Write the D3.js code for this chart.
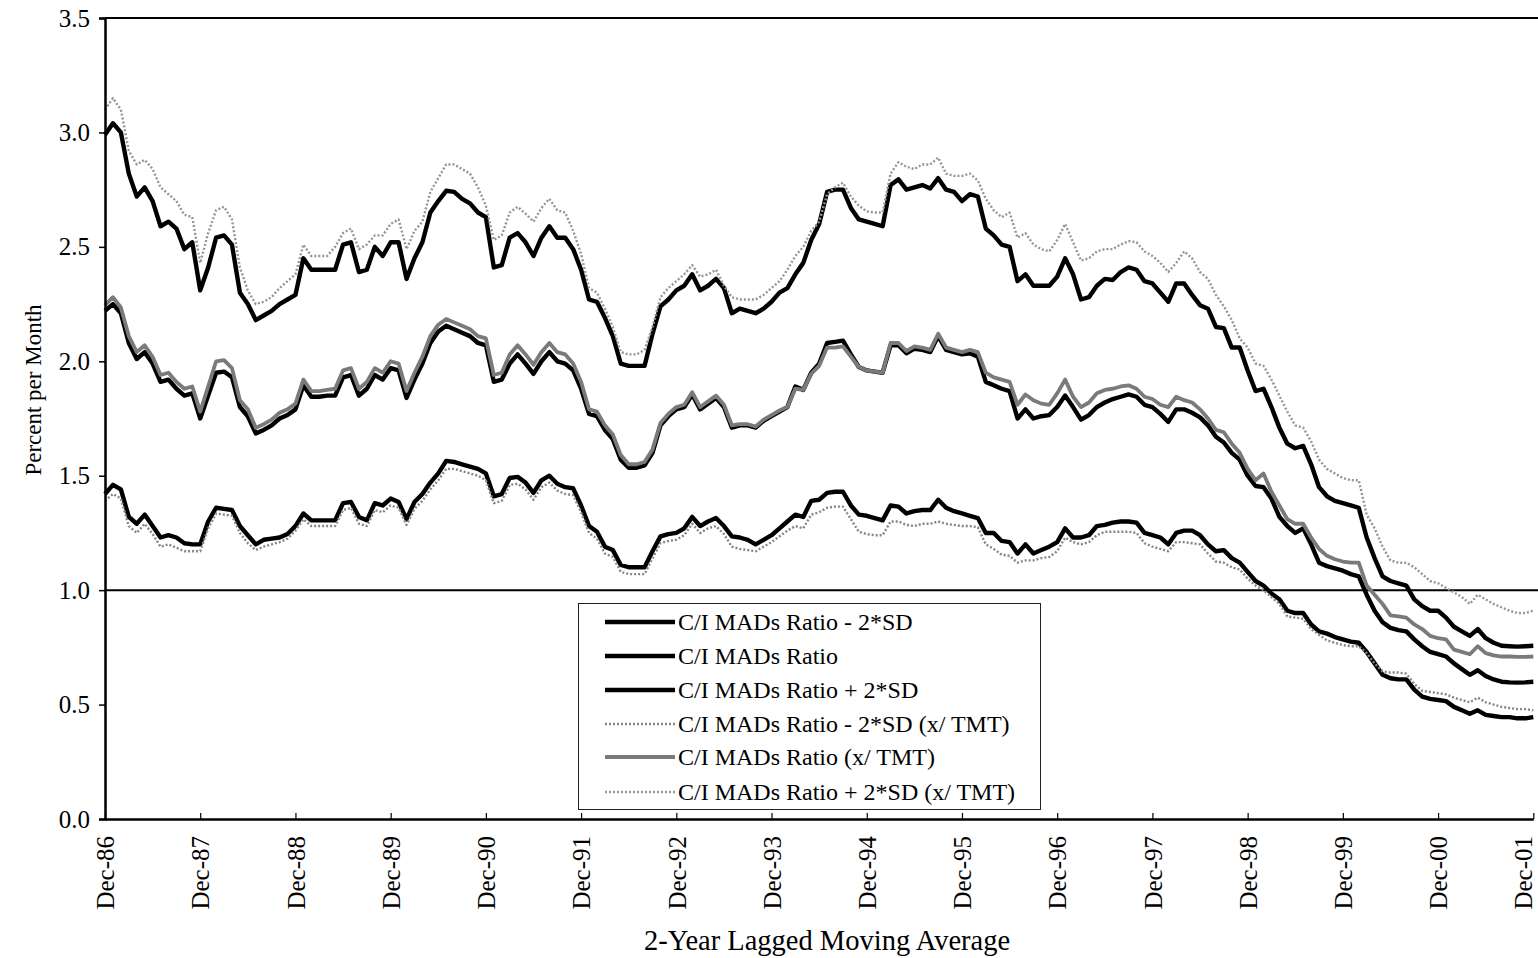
<!DOCTYPE html>
<html>
<head>
<meta charset="utf-8">
<script src="https://cdn.jsdelivr.net/npm/d3@7"></script>
<style>
  body { margin: 0; background: #fff; }
  svg { display: block; }
  text { font-family: "Liberation Serif", "Times New Roman", serif; fill: #000; }
</style>
</head>
<body>
<svg id="chart" width="1538" height="958"></svg>
<script>
// Monthly values, Dec-86 .. Dec-01 (one row per year, 181 points)
const ratioMinus2SD = [
  1.42,1.46,1.44,1.32,1.29,1.33,1.28,1.23,1.24,1.23,1.205,1.20,
  1.20,1.30,1.36,1.355,1.35,1.28,1.24,1.20,1.22,1.225,1.23,1.245,
  1.28,1.335,1.305,1.305,1.305,1.305,1.38,1.385,1.32,1.305,1.38,1.37,
  1.40,1.385,1.31,1.385,1.42,1.47,1.51,1.565,1.56,1.55,1.54,1.53,
  1.51,1.41,1.42,1.49,1.495,1.47,1.425,1.48,1.50,1.465,1.45,1.445,
  1.37,1.28,1.255,1.19,1.175,1.11,1.10,1.10,1.10,1.17,1.235,1.245,
  1.25,1.27,1.32,1.28,1.30,1.315,1.28,1.235,1.23,1.22,1.20,1.22,
  1.24,1.27,1.30,1.33,1.32,1.39,1.395,1.425,1.43,1.43,1.37,1.33,
  1.325,1.315,1.305,1.37,1.365,1.335,1.345,1.35,1.35,1.395,1.36,1.345,
  1.335,1.325,1.315,1.25,1.25,1.215,1.21,1.16,1.20,1.16,1.175,1.19,
  1.21,1.27,1.23,1.23,1.24,1.28,1.285,1.295,1.30,1.30,1.295,1.25,
  1.24,1.23,1.20,1.25,1.26,1.26,1.24,1.20,1.17,1.175,1.14,1.12,
  1.08,1.04,1.02,0.985,0.96,0.91,0.90,0.90,0.85,0.82,0.81,0.795,
  0.785,0.775,0.77,0.73,0.68,0.63,0.615,0.61,0.61,0.565,0.535,0.525,
  0.52,0.515,0.49,0.475,0.46,0.475,0.455,0.45,0.445,0.445,0.44,0.44,
  0.445
];
const ratio = [
  2.22,2.25,2.21,2.08,2.01,2.04,1.99,1.91,1.92,1.88,1.85,1.86,
  1.75,1.85,1.95,1.955,1.93,1.80,1.76,1.685,1.70,1.72,1.75,1.765,
  1.79,1.895,1.845,1.845,1.85,1.85,1.93,1.94,1.85,1.88,1.94,1.92,
  1.97,1.96,1.84,1.92,1.99,2.08,2.13,2.155,2.14,2.125,2.11,2.08,
  2.07,1.91,1.92,1.99,2.03,1.99,1.945,2.00,2.04,2.00,1.99,1.96,
  1.88,1.77,1.76,1.70,1.66,1.57,1.535,1.535,1.545,1.60,1.72,1.76,
  1.79,1.80,1.855,1.79,1.815,1.84,1.80,1.71,1.72,1.72,1.71,1.74,
  1.76,1.78,1.80,1.89,1.875,1.95,1.99,2.08,2.085,2.09,2.03,1.975,
  1.96,1.955,1.95,2.07,2.07,2.035,2.055,2.05,2.04,2.11,2.05,2.04,
  2.03,2.035,2.02,1.91,1.895,1.88,1.87,1.75,1.79,1.75,1.76,1.765,
  1.80,1.85,1.80,1.745,1.765,1.80,1.82,1.835,1.845,1.855,1.845,1.81,
  1.80,1.77,1.735,1.79,1.79,1.775,1.755,1.72,1.67,1.645,1.60,1.57,
  1.50,1.455,1.45,1.40,1.32,1.28,1.25,1.27,1.20,1.12,1.105,1.095,
  1.085,1.07,1.06,0.98,0.91,0.86,0.835,0.825,0.82,0.785,0.755,0.73,
  0.72,0.71,0.68,0.655,0.63,0.65,0.625,0.61,0.60,0.597,0.596,0.597,
  0.60
];
const ratioPlus2SD = [
  2.99,3.04,3.00,2.82,2.72,2.76,2.70,2.59,2.61,2.58,2.49,2.52,
  2.31,2.41,2.54,2.55,2.51,2.30,2.25,2.18,2.20,2.22,2.25,2.27,
  2.29,2.45,2.40,2.40,2.40,2.40,2.51,2.52,2.39,2.40,2.50,2.46,
  2.52,2.52,2.36,2.45,2.52,2.65,2.70,2.745,2.74,2.71,2.69,2.65,
  2.63,2.41,2.42,2.54,2.56,2.52,2.46,2.54,2.59,2.54,2.54,2.49,
  2.40,2.27,2.26,2.19,2.11,1.99,1.98,1.98,1.98,2.12,2.24,2.27,
  2.31,2.33,2.38,2.31,2.33,2.36,2.32,2.21,2.23,2.22,2.21,2.23,
  2.26,2.30,2.32,2.38,2.43,2.53,2.60,2.74,2.75,2.75,2.67,2.62,
  2.61,2.60,2.59,2.77,2.795,2.75,2.76,2.77,2.755,2.80,2.75,2.74,
  2.70,2.73,2.72,2.58,2.55,2.51,2.50,2.35,2.38,2.33,2.33,2.33,
  2.37,2.45,2.38,2.27,2.28,2.33,2.36,2.355,2.39,2.41,2.40,2.35,
  2.34,2.30,2.26,2.34,2.34,2.29,2.245,2.23,2.15,2.145,2.06,2.06,
  1.96,1.87,1.88,1.80,1.71,1.64,1.62,1.63,1.55,1.45,1.41,1.39,
  1.38,1.37,1.36,1.23,1.14,1.06,1.04,1.03,1.02,0.96,0.93,0.91,
  0.91,0.88,0.84,0.82,0.80,0.83,0.79,0.77,0.757,0.755,0.753,0.755,
  0.757
];
const tmtMinus2SD = [
  1.39,1.42,1.40,1.28,1.25,1.29,1.245,1.19,1.20,1.185,1.17,1.17,
  1.17,1.27,1.335,1.33,1.325,1.25,1.205,1.175,1.19,1.20,1.21,1.225,
  1.26,1.31,1.28,1.28,1.28,1.28,1.35,1.36,1.29,1.28,1.35,1.34,
  1.37,1.36,1.285,1.355,1.39,1.44,1.48,1.53,1.53,1.52,1.51,1.50,
  1.48,1.38,1.39,1.46,1.465,1.44,1.395,1.45,1.47,1.435,1.42,1.415,
  1.34,1.25,1.225,1.16,1.145,1.08,1.07,1.07,1.07,1.14,1.205,1.215,
  1.22,1.24,1.29,1.25,1.27,1.28,1.245,1.19,1.18,1.175,1.17,1.19,
  1.21,1.235,1.26,1.28,1.27,1.33,1.34,1.36,1.365,1.365,1.31,1.255,
  1.245,1.24,1.24,1.30,1.30,1.285,1.28,1.29,1.29,1.30,1.29,1.285,
  1.28,1.28,1.275,1.20,1.18,1.155,1.15,1.12,1.13,1.13,1.14,1.145,
  1.17,1.23,1.21,1.20,1.21,1.24,1.255,1.255,1.255,1.255,1.25,1.205,
  1.19,1.18,1.17,1.21,1.21,1.205,1.20,1.16,1.125,1.12,1.10,1.09,
  1.05,1.02,1.00,0.97,0.94,0.885,0.88,0.875,0.83,0.805,0.78,0.77,
  0.76,0.755,0.755,0.725,0.68,0.645,0.64,0.64,0.635,0.59,0.56,0.555,
  0.55,0.545,0.53,0.52,0.51,0.53,0.51,0.50,0.49,0.485,0.48,0.48,
  0.475
];
const tmtRatio = [
  2.245,2.28,2.235,2.11,2.04,2.07,2.02,1.94,1.95,1.91,1.88,1.89,
  1.78,1.89,2.00,2.005,1.97,1.83,1.79,1.71,1.725,1.745,1.775,1.79,
  1.815,1.92,1.87,1.87,1.875,1.88,1.96,1.97,1.88,1.91,1.97,1.95,
  2.00,1.99,1.87,1.95,2.02,2.11,2.16,2.185,2.17,2.155,2.14,2.11,
  2.10,1.94,1.95,2.03,2.07,2.03,1.985,2.04,2.08,2.04,2.03,1.99,
  1.91,1.79,1.78,1.72,1.68,1.59,1.55,1.55,1.56,1.615,1.73,1.77,
  1.80,1.81,1.865,1.80,1.825,1.85,1.81,1.72,1.725,1.725,1.715,1.745,
  1.765,1.785,1.80,1.88,1.875,1.945,1.98,2.06,2.06,2.065,2.02,1.975,
  1.96,1.955,1.95,2.08,2.08,2.045,2.065,2.06,2.05,2.12,2.06,2.05,
  2.04,2.05,2.04,1.95,1.93,1.92,1.91,1.81,1.855,1.83,1.815,1.81,
  1.86,1.92,1.845,1.80,1.82,1.86,1.875,1.88,1.89,1.895,1.88,1.845,
  1.835,1.81,1.80,1.845,1.83,1.82,1.79,1.75,1.70,1.69,1.64,1.60,
  1.53,1.48,1.51,1.43,1.37,1.31,1.29,1.29,1.23,1.18,1.15,1.135,
  1.125,1.12,1.12,1.02,0.98,0.94,0.89,0.885,0.88,0.85,0.83,0.80,
  0.79,0.785,0.74,0.73,0.72,0.755,0.725,0.715,0.71,0.71,0.708,0.708,
  0.71
];
const tmtPlus2SD = [
  3.10,3.15,3.10,2.92,2.86,2.88,2.84,2.76,2.73,2.70,2.64,2.63,
  2.43,2.56,2.66,2.675,2.62,2.41,2.31,2.25,2.26,2.28,2.32,2.35,
  2.38,2.51,2.46,2.46,2.46,2.50,2.56,2.58,2.49,2.51,2.55,2.55,
  2.60,2.62,2.49,2.57,2.61,2.74,2.80,2.86,2.86,2.84,2.82,2.76,
  2.68,2.53,2.55,2.65,2.675,2.645,2.61,2.67,2.71,2.66,2.65,2.57,
  2.47,2.32,2.30,2.23,2.15,2.04,2.03,2.03,2.05,2.15,2.28,2.32,
  2.35,2.38,2.42,2.37,2.38,2.40,2.33,2.28,2.27,2.27,2.27,2.29,
  2.32,2.35,2.40,2.46,2.50,2.57,2.61,2.73,2.76,2.78,2.72,2.68,
  2.655,2.65,2.65,2.82,2.87,2.85,2.84,2.86,2.86,2.89,2.82,2.81,
  2.81,2.82,2.79,2.71,2.66,2.63,2.65,2.54,2.56,2.51,2.49,2.48,
  2.53,2.60,2.52,2.44,2.45,2.48,2.49,2.49,2.51,2.525,2.52,2.48,
  2.46,2.43,2.39,2.43,2.48,2.45,2.39,2.36,2.29,2.24,2.18,2.10,
  2.06,1.99,1.98,1.92,1.85,1.78,1.72,1.71,1.65,1.57,1.53,1.51,
  1.49,1.48,1.48,1.33,1.27,1.19,1.13,1.12,1.12,1.10,1.07,1.04,
  1.03,1.01,0.99,0.97,0.94,0.98,0.96,0.94,0.925,0.91,0.90,0.90,
  0.91
];

const xTickLabels = ["Dec-86","Dec-87","Dec-88","Dec-89","Dec-90","Dec-91","Dec-92","Dec-93",
                     "Dec-94","Dec-95","Dec-96","Dec-97","Dec-98","Dec-99","Dec-00","Dec-01"];
const yTickValues = [0, 0.5, 1.0, 1.5, 2.0, 2.5, 3.0, 3.5];
const seriesNames = [
  "C/I MADs Ratio - 2*SD",
  "C/I MADs Ratio",
  "C/I MADs Ratio + 2*SD",
  "C/I MADs Ratio - 2*SD (x/ TMT)",
  "C/I MADs Ratio (x/ TMT)",
  "C/I MADs Ratio + 2*SD (x/ TMT)"
];
const seriesValues = [ratioMinus2SD, ratio, ratioPlus2SD, tmtMinus2SD, tmtRatio, tmtPlus2SD];

// line appearance per series
const styles = [
  { stroke: "#000", width: 4.4, dash: null },
  { stroke: "#000", width: 4.4, dash: null },
  { stroke: "#000", width: 4.4, dash: null },
  { stroke: "#858585", width: 2.4, dash: "2,2" },
  { stroke: "#7a7a7a", width: 3.8, dash: null },
  { stroke: "#959595", width: 2.4, dash: "2,2" }
];

const svg = d3.select("#chart");
const plotLeft = 105, plotTop = 18, plotBottom = 819, plotRight = 1538;
const lastIndex = ratio.length - 1;

const x = d3.scaleLinear().domain([0, lastIndex]).range([plotLeft, 1533.3]);
const y = d3.scaleLinear().domain([0, 3.5]).range([plotBottom, plotTop]);

// plot frame: top edge and the 1.0 reference line
svg.append("line").attr("x1", plotLeft).attr("x2", plotRight)
  .attr("y1", plotTop).attr("y2", plotTop)
  .attr("stroke", "#000").attr("stroke-width", 2);
svg.append("line").attr("x1", plotLeft).attr("x2", plotRight)
  .attr("y1", y(1)).attr("y2", y(1))
  .attr("stroke", "#000").attr("stroke-width", 2);

// series
const line = d3.line().x((d, i) => x(i)).y(d => y(d));
const seriesG = svg.append("g");
seriesValues.forEach((vals, k) => {
  const st = styles[k];
  seriesG.append("path")
    .attr("d", line(vals))
    .attr("fill", "none")
    .attr("stroke", st.stroke)
    .attr("stroke-width", st.width)
    .attr("stroke-linejoin", "round")
    .attr("stroke-dasharray", st.dash);
});

// y axis
const yAxis = svg.append("g")
  .attr("transform", `translate(${plotLeft},0)`)
  .call(d3.axisLeft(y).tickValues(yTickValues).tickFormat(d3.format(".1f")).tickSize(6).tickPadding(9));
yAxis.select(".domain").attr("stroke-width", 2.5);
yAxis.selectAll(".tick line").attr("stroke-width", 1.5);
yAxis.selectAll("text").style("font-size", "25px").style("font-family", '"Liberation Serif", serif');

// x axis; the last label is nudged left so it stays inside the page edge
const xAxis = svg.append("g")
  .attr("transform", `translate(0,${plotBottom})`)
  .call(d3.axisBottom(x)
    .tickValues(xTickLabels.map((_, i) => i * 12))
    .tickFormat(d => xTickLabels[d / 12])
    .tickSize(-6).tickSizeOuter(0));
xAxis.select(".domain").attr("stroke-width", 2.5);
xAxis.selectAll(".tick line").attr("stroke-width", 1.2);
xAxis.selectAll("text")
  .attr("transform", "rotate(-90)")
  .attr("x", -17)
  .attr("y", (d, i) => i === xTickLabels.length - 1 ? -11 : 0)
  .attr("dy", "0.35em")
  .style("text-anchor", "end")
  .style("font-size", "25px")
  .style("font-family", '"Liberation Serif", serif');

// axis titles
svg.append("text")
  .attr("transform", "translate(41,390) rotate(-90)")
  .attr("text-anchor", "middle")
  .style("font-size", "23px")
  .text("Percent per Month");
svg.append("text")
  .attr("x", 827).attr("y", 950)
  .attr("text-anchor", "middle")
  .style("font-size", "28.5px")
  .text("2-Year Lagged Moving Average");

// legend
const legend = svg.append("g");
legend.append("rect")
  .attr("x", 578.5).attr("y", 603.5).attr("width", 462).attr("height", 206)
  .attr("fill", "#fff").attr("stroke", "#222").attr("stroke-width", 1);
const rowY = [622, 656, 690, 724, 757, 792];
seriesNames.forEach((name, k) => {
  const st = styles[k];
  legend.append("line")
    .attr("x1", 605).attr("x2", 675)
    .attr("y1", rowY[k]).attr("y2", rowY[k])
    .attr("stroke", st.stroke).attr("stroke-width", st.width)
    .attr("stroke-dasharray", st.dash);
  legend.append("text")
    .attr("x", 678).attr("y", rowY[k]).attr("dy", "0.35em")
    .style("font-size", "24px")
    .text(name);
});
</script>
</body>
</html>
